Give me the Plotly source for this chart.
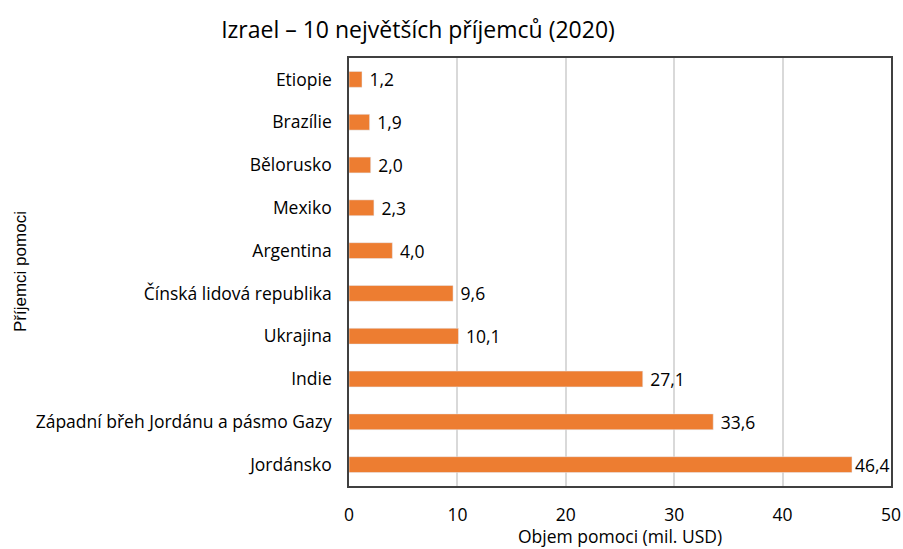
import plotly.graph_objects as go

recipients = [
    "Etiopie",
    "Brazílie",
    "Bělorusko",
    "Mexiko",
    "Argentina",
    "Čínská lidová republika",
    "Ukrajina",
    "Indie",
    "Západní břeh Jordánu a pásmo Gazy",
    "Jordánsko",
]
aid_musd = [1.2, 1.9, 2.0, 2.3, 4.0, 9.6, 10.1, 27.1, 33.6, 46.4]
x_ticks = [0, 10, 20, 30, 40, 50]

# Czech decimal comma; small gap before the label unless it hugs the right edge
labels = [("" if v > 45 else " ") + f"{v:.1f}".replace(".", ",") for v in aid_musd]
font_family = "Open Sans, Liberation Sans, sans-serif"

W, H = 903, 549
L, R, T, B = 349, 12, 58, 63
plot_w = W - L - R
plot_h = H - T - B

fig = go.Figure(
    go.Bar(
        x=aid_musd,
        y=recipients,
        orientation="h",
        width=0.37,
        marker={"color": "#ED7D31"},
        text=labels,
        textposition="outside",
        constraintext="none",
        textfont={"size": 17.5, "color": "#000000"},
        cliponaxis=False,
    )
)

fig.update_layout(
    width=W,
    height=H,
    title={
        "text": "Izrael – 10 největších příjemců (2020)",
        "x": 418 / W,
        "xanchor": "center",
        "y": 1 - 30 / H,
        "yanchor": "middle",
        "font": {"size": 23, "color": "#000000", "family": font_family},
    },
    plot_bgcolor="white",
    paper_bgcolor="white",
    font={"family": font_family, "size": 17.5, "color": "#000000"},
    margin={"l": L, "r": R, "t": T, "b": B, "autoexpand": False},
    showlegend=False,
)

fig.update_xaxes(
    range=[0, 50],
    tickvals=x_ticks,
    showgrid=True,
    gridcolor="#D9D9D9",
    gridwidth=1.5,
    showline=True,
    linecolor="#404040",
    linewidth=1.5,
    mirror=True,
    ticks="",
    ticklabelstandoff=12,
    zeroline=False,
    automargin=False,
    tickfont={"size": 17.5},
)
fig.update_yaxes(
    autorange="reversed",
    showline=True,
    linecolor="#404040",
    linewidth=1.5,
    mirror=True,
    ticks="",
    ticklabelstandoff=12,
    automargin=False,
    tickfont={"size": 17.5},
)

fig.add_annotation(
    text="Objem pomoci (mil. USD)",
    xref="paper", yref="paper",
    x=0.5, y=-50 / plot_h,
    xanchor="center", yanchor="middle",
    showarrow=False,
    font={"size": 17.5},
)
fig.add_annotation(
    text="Příjemci pomoci",
    xref="paper", yref="paper",
    x=(20 - L) / plot_w, y=0.5,
    xanchor="center", yanchor="middle",
    textangle=-90,
    showarrow=False,
    font={"size": 17, "family": "Liberation Sans, Arial, sans-serif"},
)

# drop the default 8px page margin so the figure fills the window exactly
fig.write_html(
    "out.html",
    config={"displayModeBar": False},
    post_script="document.body.style.margin = '0';",
)
